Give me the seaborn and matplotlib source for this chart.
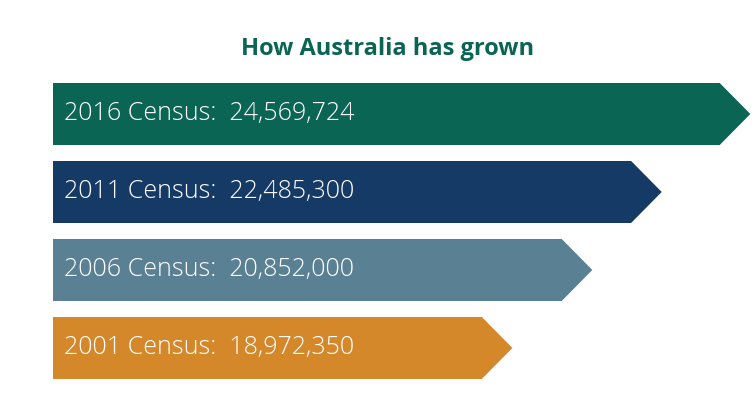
import pandas as pd
import matplotlib.pyplot as plt
import seaborn as sns

# Dados dos censos (de cima para baixo)
anos = ['2016', '2011', '2006', '2001']
populacao = [24569724, 22485300, 20852000, 18972350]
cores = ['#0b6555', '#163a66', '#5a8093', '#d4882a']
titulo = 'How Australia has grown'

dados = pd.DataFrame({'ano': anos, 'populacao': populacao})

sns.set_theme(style='white')
plt.rcParams['font.family'] = ['Open Sans', 'DejaVu Sans']

fig = plt.figure(figsize=(7.55, 4.01), dpi=100)
ax = fig.add_axes([0.070, 0.035, 0.930, 0.778])

sns.barplot(data=dados, x='populacao', y='ano', hue='ano', palette=cores,
            orient='h', width=0.795, saturation=1, legend=False, ax=ax)

# Ponta de seta no final de cada barra (sobrepõe um pouco para não deixar emenda)
ponta = 0.72e6
for barra, cor in zip(ax.patches, cores):
    barra.set_linewidth(0)
    x1 = barra.get_x() + barra.get_width()
    y0 = barra.get_y()
    h = barra.get_height()
    xs = x1 - 0.1e6
    ax.fill([xs, x1, x1 + ponta, x1, xs], [y0, y0, y0 + h / 2, y0 + h, y0 + h],
            color=cor, lw=0)

# Rótulos dentro das barras
for i, (ano, pop) in enumerate(zip(anos, populacao)):
    ax.text(9.15e6, i, f'{ano} Census:  {pop:,}', color='white',
            fontsize=18, va='center', ha='left', fontweight='light')

ax.set_xlim(8.88e6, 25.4e6)
ax.set_ylim(3.5, -0.5)
ax.axis('off')

fig.text(0.513, 0.878, titulo, ha='center', va='center', fontsize=17,
         fontweight='bold', color='#0b6555', fontstretch='condensed')

fig.savefig('out.png', dpi=100, facecolor='white')
